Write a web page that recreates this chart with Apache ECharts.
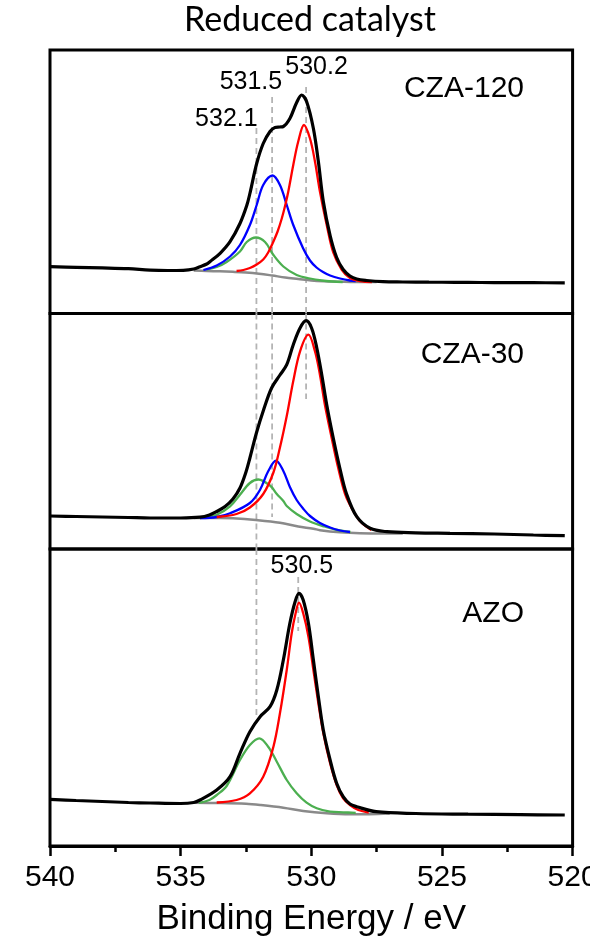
<!DOCTYPE html>
<html><head><meta charset="utf-8">
<script src="https://cdn.jsdelivr.net/npm/echarts@6/dist/echarts.min.js"></script>
<style>html,body{margin:0;padding:0;background:#fff}#c{width:590px;height:940px}</style>
</head><body><div id="c"></div>
<script>
// ---------- DATA (binding energy eV, intensity a.u.) ----------
const xTicks = [540, 535, 530, 525, 520];
const panelNames = ['CZA-120', 'CZA-30', 'AZO'];

// CZA-120
const cza120Total = [[540.0,46.8],[539.0,46.2],[538.0,45.6],[537.0,44.8],[536.17,43.4],[535.5,43.0],[534.9,43.2],[534.5,44.5],[534.26,46.8],[534.0,49.5],[533.88,51.8],[533.49,60.2],[533.11,71.8],[532.73,90],[532.47,108],[532.35,120],[532.09,150],[531.84,170],[531.58,182],[531.39,186],[531.2,186.5],[531.07,187],[530.82,195],[530.56,211],[530.37,218.5],[530.18,212],[529.92,185],[529.73,152],[529.54,112],[529.28,78],[529.03,56],[528.78,44],[528.52,37.5],[528.26,34.5],[527.88,33],[527.26,31.8],[526.5,31.5],[525.5,31.3],[524.5,31.2],[523.5,31.0],[522.5,30.9],[521.5,30.8],[520.3,30.7]];
const cza120Red = [[532.86,42.5],[532.6,43.5],[532.35,45.5],[532.09,49],[531.84,54],[531.65,61],[531.45,72],[531.29,82],[531.13,95],[531.0,108],[530.88,122],[530.69,148.5],[530.5,172],[530.28,188.5],[530.05,175],[529.86,152],[529.67,122],[529.41,88.5],[529.16,61],[528.84,44],[528.52,35.5],[528.14,32.5],[527.68,31.5]];
const cza120Blue = [[534.13,43.5],[533.62,48],[533.11,57],[532.73,68.5],[532.35,88.5],[532.09,108.5],[531.84,128.5],[531.48,138],[531.2,128.5],[530.94,108.5],[530.69,88.5],[530.31,65],[530.05,53],[529.8,46],[529.55,41.5],[529.28,38],[528.9,35],[528.52,33],[528.3,32.5]];
const cza120Green = [[534.0,44],[533.62,46.5],[533.24,51.5],[532.73,62],[532.47,71.5],[532.12,76],[531.77,71.5],[531.45,58.5],[531.07,47],[530.56,38.5],[530.05,35],[529.6,33],[529.2,32],[528.8,31.5]];
const cza120Bg = [[534.5,43],[534.0,42.5],[533.5,42.2],[533.0,41.7],[532.5,41],[532.0,39.8],[531.5,38],[531.0,36],[530.5,34.5],[530.0,33],[529.5,32.2],[529.0,31.8],[528.5,31.5],[528.0,31.4],[527.5,31.4]];

// CZA-30
const cza30Total = [[540.0,33],[539.0,32.5],[538.0,32],[537.0,31.5],[536.17,31],[535.0,31],[534.26,31.8],[533.9,34],[533.62,37.5],[533.3,42.5],[533.0,50],[532.73,61],[532.5,77],[532.35,91],[532.09,117],[531.84,138],[531.52,161],[531.2,174],[530.94,184.3],[530.69,204.3],[530.43,221],[530.2,228.3],[529.99,221],[529.79,201],[529.6,174.3],[529.41,144.3],[529.16,111],[528.9,80],[528.65,55],[528.26,32.3],[527.75,20.7],[527.11,17.3],[526.0,16.2],[524.69,15.7],[523.0,15],[521.5,14],[520.3,13.3]];
const cza30Red = [[533.62,32],[532.86,35],[532.35,41.5],[531.84,55],[531.45,76.5],[531.2,101.5],[530.94,133],[530.69,168],[530.43,197.7],[530.11,214.3],[529.86,197.7],[529.67,174.3],[529.48,144.3],[529.22,111],[528.97,81],[528.71,55],[528.52,44],[528.14,28],[527.7,19]];
const cza30Blue = [[534.26,31],[533.62,32],[533.11,35.7],[532.35,46],[531.96,59.3],[531.65,77.7],[531.35,88.3],[531.07,78],[530.82,62],[530.56,49],[530.3,40],[530.05,33],[529.67,26],[529.28,21.5],[528.9,18.5],[528.52,17]];
const cza30Green = [[534.26,31],[533.62,34.3],[533.11,42.7],[532.73,54.3],[532.35,66],[532.03,69.5],[531.58,63.5],[531.32,55],[531.07,48],[530.94,43],[530.56,35],[530.05,27.5],[529.5,22.5],[529.0,19],[528.5,17]];
const cza30Bg = [[534.5,31],[533.5,31],[533.0,30.7],[532.12,29],[531.2,26.3],[530.5,22.5],[529.92,20.3],[529.67,18.8],[528.9,16.7],[528.14,15.8],[527.11,15.6],[526.5,15.6]];

// AZO
const azoTotal = [[540.0,46.7],[539.0,45.5],[538.0,44.5],[537.0,43.5],[536.17,43],[535.0,42.5],[534.5,43.5],[534.26,46],[533.62,56],[533.11,69.3],[532.73,92.7],[532.35,114.3],[531.96,129.3],[531.58,139.3],[531.32,156],[531.07,186],[530.82,222.7],[530.62,244.3],[530.47,252.7],[530.31,246],[530.11,222.7],[529.92,186],[529.73,149.3],[529.54,116],[529.28,86],[529.03,62.7],[528.78,49.3],[528.52,42],[528.26,39.3],[527.52,34.3],[526.0,32.5],[524.0,31.8],[522.0,31.3],[520.3,31]];
const azoRed = [[533.62,43.5],[532.86,46],[532.35,52.7],[531.84,69.3],[531.45,99.3],[531.2,132.7],[530.94,176],[530.75,212.7],[530.6,232.7],[530.47,243.3],[530.31,232.7],[530.11,209.3],[529.92,176],[529.73,142.7],[529.54,112.7],[529.28,82.7],[529.03,61],[528.78,47.7],[528.52,41],[528.2,36],[527.8,33.5]];
const azoGreen = [[534.3,43.2],[533.9,46],[533.62,51],[533.24,60],[532.73,86],[532.35,101],[531.99,107.7],[531.65,99.3],[531.32,84.3],[530.94,66],[530.56,52.7],[530.18,43.3],[529.79,37.7],[529.28,34.3],[528.78,33.7],[528.3,33.2]];
const azoBg = [[534.5,43.3],[533.5,43],[532.5,42.2],[531.96,41],[531.07,38.3],[530.31,35],[529.41,32.7],[528.52,31.7],[527.8,31.8],[527.0,32.5]];

// peak reference energies (dashed guide lines) and their labels
const peakEnergies = [532.1, 531.5, 530.2, 530.5];
const peakLabels = ['532.1', '531.5', '530.2', '530.5'];

// ---------- LAYOUT ----------
const panelTop = [50, 313.5, 549];
const panelH = [263.5, 235.5, 297];
const yMax = [263.5, 235.5, 297];
// dashed guide segments: [peakIndex, panel, yFrom, yTo]
const dashSegs = [
  [0,0,185.5,0],[0,1,235.5,0],[0,2,297,128],
  [1,0,216.5,0],[1,1,235.5,32],
  [2,0,226.5,0],[2,1,235.5,150],
  [3,2,269,215]
];
// label anchors: [peakIndex, panel, energy, y]
const labelAnchors = [[0,0,533.25,194.5],[1,0,532.31,231.8],[2,0,529.80,246.8],[3,2,530.36,280]];
const nameY = [88.3, 355, 614];

const panels = [
  {total: cza120Total, red: cza120Red, blue: cza120Blue, green: cza120Green, bg: cza120Bg},
  {total: cza30Total, red: cza30Red, blue: cza30Blue, green: cza30Green, bg: cza30Bg},
  {total: azoTotal, red: azoRed, blue: null, green: azoGreen, bg: azoBg}
];

const FONT = '"Liberation Sans", Arial, sans-serif';
const grids = [], xAxes = [], yAxes = [], series = [];
panels.forEach((p, i) => {
  grids.push({left: 50, right: 17.4, top: panelTop[i], height: panelH[i], show: true, borderColor: '#000', borderWidth: 3,
    backgroundColor: 'transparent', containLabel: false, outerBoundsMode: 'none'});
  const last = i === 2;
  xAxes.push({
    type: 'value', gridIndex: i, min: 520, max: 540, interval: 5, inverse: true, show: last,
    axisLine: {show: true, onZero: false, lineStyle: {color: '#000', width: 3}},
    axisTick: {show: true, inside: false, length: 10, lineStyle: {color: '#000', width: 2.5}},
    minorTick: {show: true, splitNumber: 2, length: 6, lineStyle: {color: '#000', width: 2.5}},
    splitLine: {show: false}, minorSplitLine: {show: false},
    axisLabel: {show: true, fontSize: 30, color: '#000', fontFamily: FONT, margin: 17, hideOverlap: false,
      showMinLabel: true, showMaxLabel: true,
      formatter: v => xTicks.includes(v) ? String(v) : ''},
    name: last ? 'Binding Energy / eV' : '', nameLocation: 'middle', nameGap: 56,
    nameTextStyle: {fontSize: 35, color: '#000', fontFamily: FONT}
  });
  yAxes.push({type: 'value', gridIndex: i, min: 0, max: yMax[i], show: false, splitLine: {show: false}});
  const mk = (data, color, width, z) => ({type: 'line', xAxisIndex: i, yAxisIndex: i, data, symbol: 'none',
    smooth: 0.35,
    lineStyle: {color, width}, z, silent: true, animation: false});
  series.push(mk(p.bg, '#8a8a8a', 2.5, 3));
  series.push(mk(p.green, '#4caf50', 2.3, 4));
  if (p.blue) series.push(mk(p.blue, '#0000ff', 2.3, 5));
  series.push(mk(p.red, '#ff0000', 2.3, 6));
  series.push(mk(p.total, '#000000', 3.2, 7));
});

dashSegs.forEach(([k, pi, a, b]) => {
  series.push({type: 'line', xAxisIndex: pi, yAxisIndex: pi, data: [[peakEnergies[k], a], [peakEnergies[k], b]],
    symbol: 'none', lineStyle: {color: '#b4b4b4', width: 1.8, type: [6, 4]}, z: 2, silent: true, animation: false});
});

labelAnchors.forEach(([k, pi, e, y]) => {
  series.push({type: 'scatter', xAxisIndex: pi, yAxisIndex: pi, data: [[e, y]], symbolSize: 0,
    itemStyle: {color: '#fff', opacity: 1}, z: 10, silent: true, animation: false,
    label: {show: true, position: [0, 0], align: 'center', verticalAlign: 'middle', formatter: peakLabels[k],
      fontSize: 25, color: '#000', opacity: 1, fontFamily: FONT}});
});

const graphics = [{type: 'text', x: 310, y: 20, style: {text: 'Reduced catalyst', fontSize: 34, fontFamily: 'Lato, "Open Sans", sans-serif', fill: '#000', textAlign: 'center', textVerticalAlign: 'middle'}}];
panelNames.forEach((n, i) => {
  graphics.push({type: 'text', x: 524, y: nameY[i], style: {text: n, fontSize: 30, fontFamily: FONT, fill: '#000', textAlign: 'right', textVerticalAlign: 'middle'}});
});

const chart = echarts.init(document.getElementById('c'), null, {renderer: 'canvas'});
chart.setOption({animation: false, backgroundColor: '#fff', grid: grids, xAxis: xAxes, yAxis: yAxes, series, graphic: graphics});
</script></body></html>
